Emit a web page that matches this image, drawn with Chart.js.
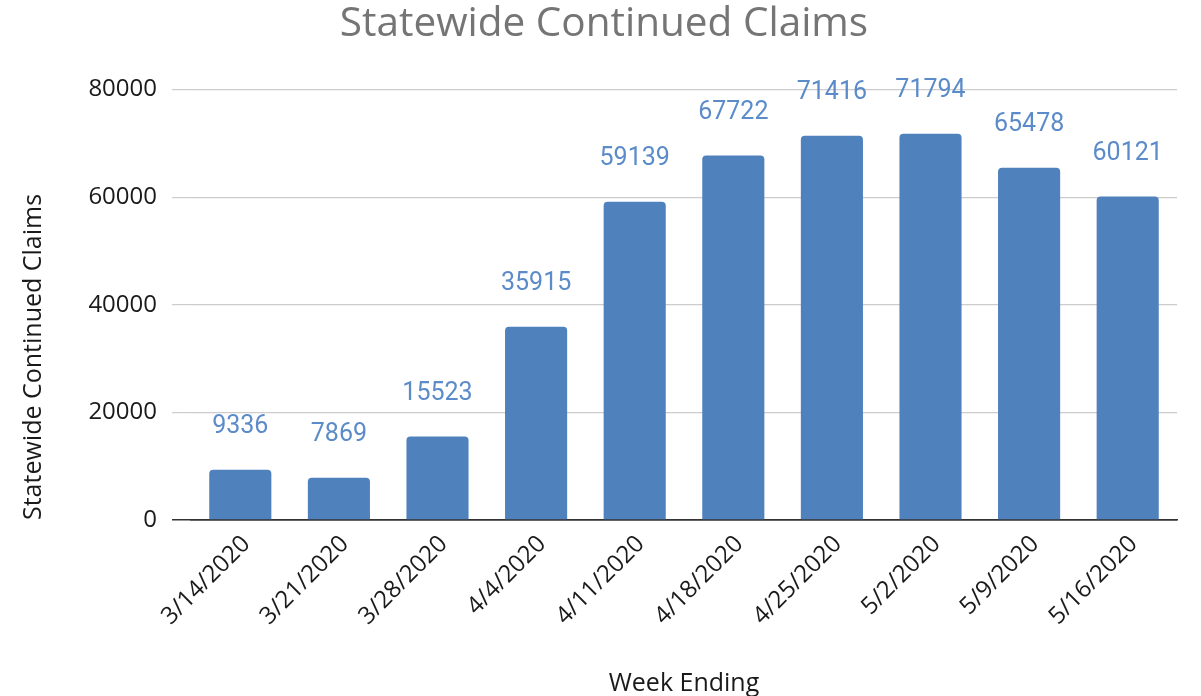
<!DOCTYPE html>
<html>
<head>
<meta charset="utf-8">
<script src="https://cdn.jsdelivr.net/npm/chart.js@4/dist/chart.umd.min.js"></script>
<style>
html,body{margin:0;padding:0;background:#fff;}
#wrap{width:1201px;height:696px;}
</style>
</head>
<body>
<div id="wrap"><canvas id="c" width="1201" height="696"></canvas></div>
<script>
const categories = ["3/14/2020","3/21/2020","3/28/2020","4/4/2020","4/11/2020","4/18/2020","4/25/2020","5/2/2020","5/9/2020","5/16/2020"];
const claims = [9336, 7869, 15523, 35915, 59139, 67722, 71416, 71794, 65478, 60121];
const yTicks = [0, 20000, 40000, 60000, 80000];

const barLabels = {
  id: 'barLabels',
  afterDatasetsDraw(chart) {
    const ctx = chart.ctx;
    const meta = chart.getDatasetMeta(0);
    ctx.save();
    ctx.font = '25px Roboto';
    ctx.fillStyle = '#5b8bc9';
    ctx.textAlign = 'center';
    ctx.textBaseline = 'middle';
    meta.data.forEach((bar, i) => {
      ctx.fillText(String(claims[i]), bar.x, bar.y - 43);
    });
    ctx.restore();
  }
};

new Chart(document.getElementById('c'), {
  type: 'bar',
  data: {
    labels: categories,
    datasets: [{
      data: claims,
      backgroundColor: '#4f81bd',
      borderRadius: 4,
      borderSkipped: 'start',
      barPercentage: 0.63,
      categoryPercentage: 1.0
    }]
  },
  options: {
    responsive: false,
    animation: false,
    layout: { padding: { left: 31, right: 24, top: 0, bottom: 0 } },
    plugins: {
      legend: { display: false },
      tooltip: { enabled: false },
      title: {
        display: true,
        text: 'Statewide Continued Claims',
        color: '#757575',
        font: { family: 'Open Sans', size: 40.5, weight: 'normal', lineHeight: 1.1 },
        padding: { top: 2, bottom: 43 }
      }
    },
    scales: {
      x: {
        grid: { display: false, drawTicks: false },
        border: { display: true, color: '#333333', width: 1.5 },
        ticks: {
          color: '#1a1a1a',
          font: { family: 'Open Sans', size: 24 },
          minRotation: 45,
          maxRotation: 45,
          padding: 10,
          labelOffset: 6
        },
        title: {
          display: true,
          text: 'Week Ending',
          color: '#1a1a1a',
          font: { family: 'Open Sans', size: 25, lineHeight: 1 },
          padding: { top: 4, bottom: 0 }
        },
        afterFit(scale) { scale.height = 176; }
      },
      y: {
        min: 0,
        max: 80000,
        afterBuildTicks(scale) { scale.ticks = yTicks.map(v => ({ value: v })); },
        grid: {
          color: ctx => (ctx.tick && ctx.tick.value === 0) ? '#333333' : '#cccccc',
          lineWidth: ctx => (ctx.tick && ctx.tick.value === 0) ? 1.5 : 1.2,
          drawTicks: true,
          tickLength: 19
        },
        border: { display: false },
        ticks: {
          color: '#1a1a1a',
          font: { family: 'Open Sans', size: 24 },
          padding: 15,
          callback: v => String(v)
        },
        title: {
          display: true,
          text: 'Statewide Continued Claims',
          color: '#1a1a1a',
          align: 'start',
          font: { family: 'Open Sans', size: 25, lineHeight: 1 },
          padding: { top: -10, bottom: 0 }
        },
        afterFit(scale) { scale.width = 160; }
      }
    }
  },
  plugins: [barLabels]
});
</script>
</body>
</html>
